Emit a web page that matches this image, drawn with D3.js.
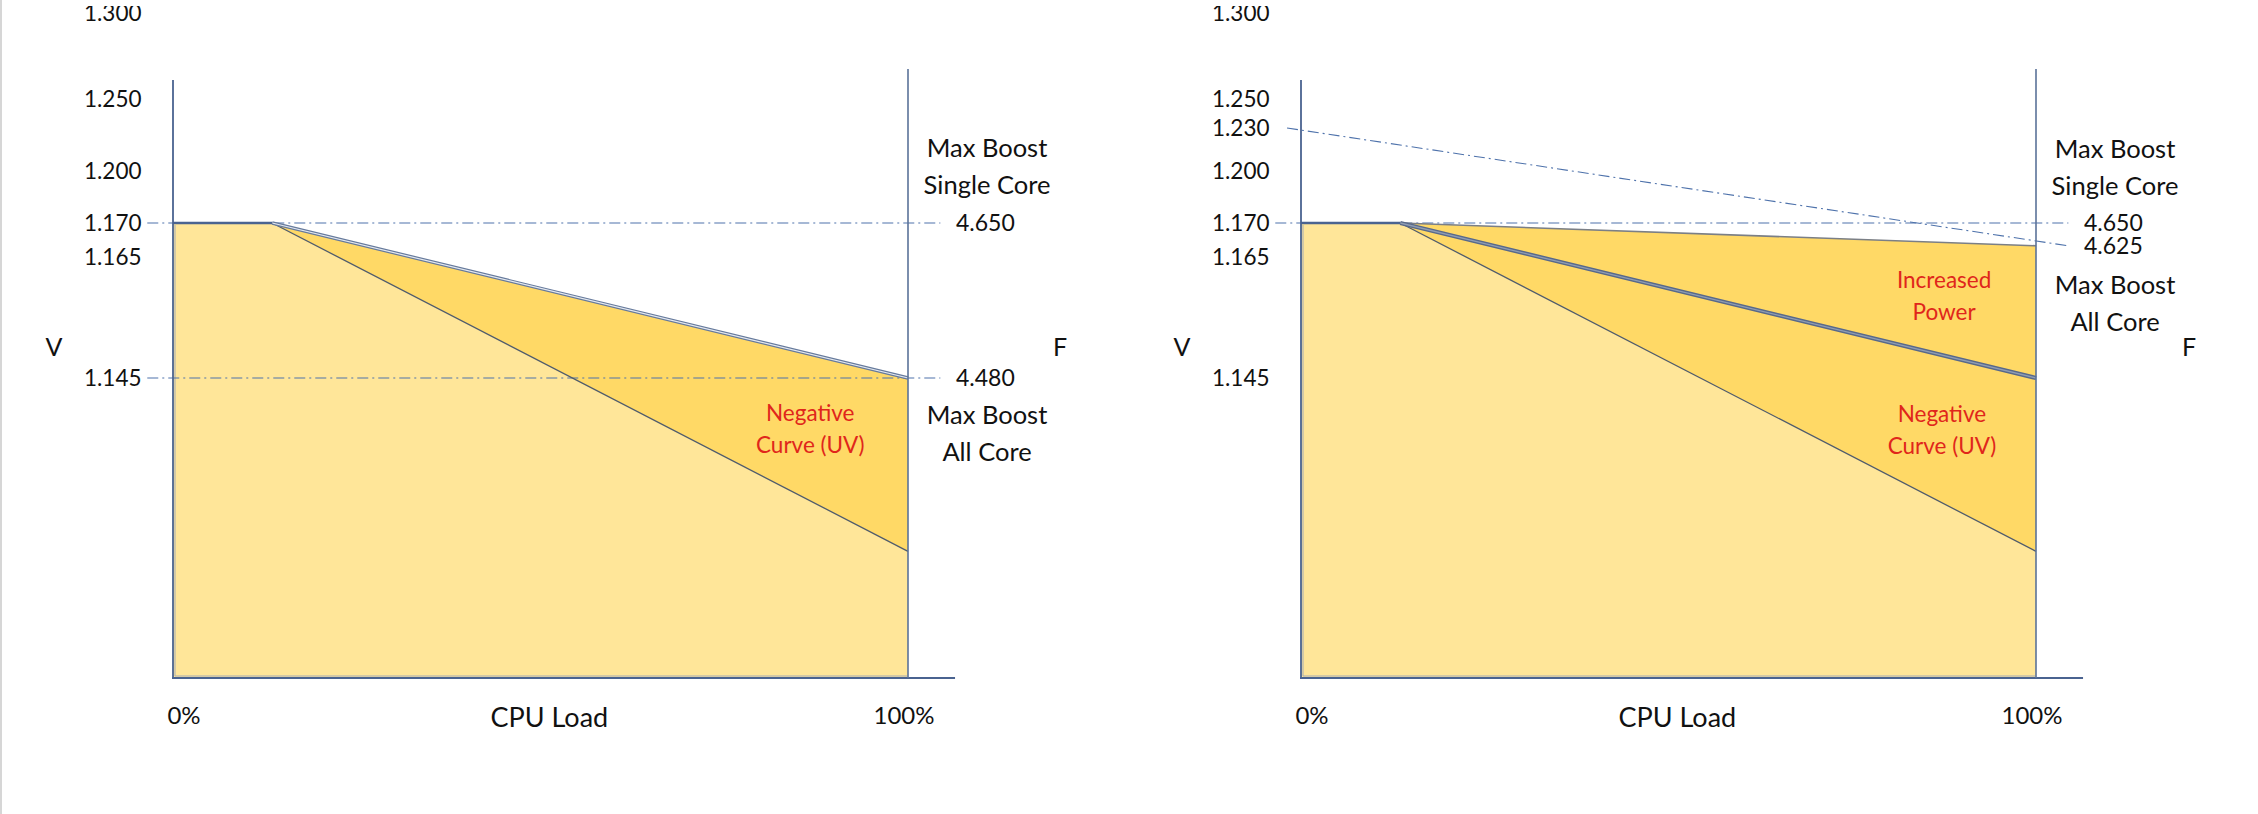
<!DOCTYPE html>
<html><head><meta charset="utf-8">
<script src="https://cdn.jsdelivr.net/npm/d3@7"></script>
<style>
body{margin:0;background:#fff;}
svg{display:block;}
text{font-family:Lato,"Open Sans",sans-serif;fill:#111;}
</style>
</head><body>
<svg id="c" width="2258" height="814"></svg>
<script>
// ---------------- data ----------------
const loadTicks = [0, 100];
const loadTickLabels = ["0%", "100%"];
const xTitle = "CPU Load";
const voltTicksLeft = [1.300, 1.250, 1.200, 1.170, 1.165, 1.145];
const voltTicksRight = [1.300, 1.250, 1.230, 1.200, 1.170, 1.165, 1.145];
const voltBase = 1.100;
const freqTicksLeft = [4.650, 4.480];
const freqTicksRight = [4.650, 4.625];
const kneeLoad = 13.5;        // % load where curve starts dropping
const kneeVolt = 1.170;
const stockEndVolt = 1.145;   // stock curve at 100% load (4.480)
const uvEndVolt = 1.119;      // negative curve (UV) at 100% load
const boostEndFreq = 4.625;   // increased power curve at 100% load
const slopedRefStartVolt = 1.230;
const slopedRefEndFreq = 4.625;
const redLabelsLeft = [["Negative", "Curve (UV)"]];
const redLabelsRight = [["Increased", "Power"], ["Negative", "Curve (UV)"]];

// ---------------- layout ----------------
const svg = d3.select("#c");
const W = 735, yBottom = 678, axisTop = 80, rightTop = 69;
const voltDomain = [1.300, 1.250, 1.230, 1.200, 1.170, 1.165, 1.145, voltBase];
const y = d3.scaleLinear().domain(voltDomain).range([13, 99, 128, 171, 223, 257, 378, yBottom]);
const fy = d3.scaleLinear().domain([4.480, 4.650]).range([378, 223]);

const axisBlue = "#4a6390";
const dashBlue = "#4e72ab";
const lightFill = "#FFE699";
const darkFill = "#FFD966";
const red = "#e0261b";

// left page border
svg.append("line").attr("x1",1).attr("x2",1).attr("y1",0).attr("y2",814)
  .attr("stroke","#c9c9c9").attr("stroke-width",1.5);

svg.append("defs").append("clipPath").attr("id","topclip")
  .append("rect").attr("x",0).attr("y",6).attr("width",2258).attr("height",808);

function panel(x0, opts) {
  const g = svg.append("g");
  const x = d3.scaleLinear().domain([0, 100]).range([x0, x0 + W]);
  const line = d3.line().x(d => d[0]).y(d => d[1]);
  const topEndY = opts.right ? fy(boostEndFreq) : y(stockEndVolt);

  // light area
  g.append("path").attr("d", line([
    [x(0), y(voltBase)], [x(0), y(kneeVolt)], [x(kneeLoad), y(kneeVolt)],
    [x(100), y(uvEndVolt)], [x(100), y(voltBase)]
  ]) + "Z").attr("fill", lightFill);
  // dark area
  g.append("path").attr("d", line([
    [x(kneeLoad), y(kneeVolt)], [x(100), topEndY], [x(100), y(uvEndVolt)]
  ]) + "Z").attr("fill", darkFill);

  // inner gray border of the fill
  g.append("path").attr("d", line([[x(0)+2, y(kneeVolt)+2],[x(0)+2, y(voltBase)-2],[x(100)-1, y(voltBase)-2]]))
    .attr("fill","none").attr("stroke","#a7acb3").attr("stroke-width",1);

  // dashed reference lines
  const dash = "11,4,2,4";
  const dashedH = (yy) => g.append("line").attr("x1", x(-3.5)).attr("x2", x(104.4))
    .attr("y1", yy).attr("y2", yy).attr("stroke", dashBlue).attr("stroke-width",1.1)
    .attr("stroke-dasharray", dash);
  dashedH(y(kneeVolt));
  if (!opts.right) dashedH(y(stockEndVolt));
  if (opts.right) {
    g.append("line").attr("x1", x(-1.9)).attr("y1", y(slopedRefStartVolt))
      .attr("x2", x(104.4)).attr("y2", fy(slopedRefEndFreq))
      .attr("stroke", dashBlue).attr("stroke-width",1.1).attr("stroke-dasharray", dash);
  }

  // lower (UV) line
  g.append("line").attr("x1", x(kneeLoad)).attr("y1", y(kneeVolt))
    .attr("x2", x(100)).attr("y2", y(uvEndVolt))
    .attr("stroke", "#4f5b6b").attr("stroke-width", 1.3);

  if (!opts.right) {
    const s = [[x(kneeLoad), y(kneeVolt)], [x(100), y(stockEndVolt)]];
    g.append("path").attr("d", line(s)).attr("stroke","#667a9c").attr("stroke-width",3.6).attr("fill","none");
    g.append("path").attr("d", line(s)).attr("stroke","#e4e9f1").attr("stroke-width",1.2).attr("fill","none");
  } else {
    g.append("line").attr("x1", x(kneeLoad)).attr("y1", y(kneeVolt))
      .attr("x2", x(100)).attr("y2", fy(boostEndFreq))
      .attr("stroke", "#7b7f86").attr("stroke-width", 1.6);
    const s = [[x(kneeLoad), y(kneeVolt)], [x(100), y(stockEndVolt)]];
    g.append("path").attr("d", line(s)).attr("stroke","#58698a").attr("stroke-width",4.2).attr("fill","none");
    g.append("path").attr("d", line(s)).attr("stroke","#8f9db3").attr("stroke-width",1.3).attr("fill","none");
  }

  // flat top segment
  g.append("line").attr("x1", x(0)).attr("x2", x(kneeLoad)).attr("y1", y(kneeVolt)).attr("y2", y(kneeVolt))
    .attr("stroke", axisBlue).attr("stroke-width", 2.6);

  // axes
  g.append("line").attr("x1", x(0)).attr("x2", x(0)).attr("y1", axisTop).attr("y2", yBottom)
    .attr("stroke", axisBlue).attr("stroke-width", 1.8);
  g.append("line").attr("x1", x(0)-1).attr("x2", x(106.4)).attr("y1", yBottom).attr("y2", yBottom)
    .attr("stroke", axisBlue).attr("stroke-width", 2);
  g.append("line").attr("x1", x(100)).attr("x2", x(100)).attr("y1", rightTop).attr("y2", yBottom)
    .attr("stroke", "#5b7299").attr("stroke-width", 1.6);

  // voltage tick labels
  const ticks = opts.right ? voltTicksRight : voltTicksLeft;
  g.append("g").attr("clip-path","url(#topclip)").selectAll("text").data(ticks).join("text")
    .attr("x", x0 - 89).attr("y", d => y(d)).attr("dy","0.36em")
    .attr("font-size", 22.5).text(d => d3.format(".3f")(d));

  // axis letters
  g.append("text").attr("x", x0 - 119).attr("y", 347).attr("dy","0.36em")
    .attr("text-anchor","middle").attr("font-size",25).text("V");
  g.append("text").attr("x", x(100) + (opts.right ? 153 : 152)).attr("y", 347).attr("dy","0.36em")
    .attr("text-anchor","middle").attr("font-size",25).text("F");

  // frequency labels
  const fticks = opts.right ? freqTicksRight : freqTicksLeft;
  g.selectAll(".ft").data(fticks).join("text").attr("class","ft")
    .attr("x", x(100) + 48).attr("y", d => fy(d)).attr("dy","0.36em")
    .attr("font-size", 23).text(d => d3.format(".3f")(d));

  // Max boost labels
  const cx = x(100) + 79;
  const block = (lines, y1) => lines.forEach((t, i) => g.append("text")
    .attr("x", cx).attr("y", y1 + i * 37).attr("dy","0.36em")
    .attr("text-anchor","middle").attr("font-size",25.5).text(t));
  block(["Max Boost", "Single Core"], opts.right ? 149 : 148);
  block(["Max Boost", "All Core"], opts.right ? 285 : 415);

  // red labels
  const reds = opts.right ? redLabelsRight : redLabelsLeft;
  const redPos = opts.right ? [[87.5, 280], [87.2, 414]] : [[86.7, 413]];
  reds.forEach((lines, k) => lines.forEach((t, i) => g.append("text")
    .attr("x", x(redPos[k][0])).attr("y", redPos[k][1] + i * 32).attr("dy","0.36em")
    .attr("text-anchor","middle").attr("font-size",22.5).style("fill", red).text(t)));

  // x labels
  loadTicks.forEach((v, i) => g.append("text")
    .attr("x", x(v) + (i === 0 ? 11 : -4)).attr("y", 715).attr("dy","0.36em")
    .attr("text-anchor","middle").attr("font-size",24).text(loadTickLabels[i]));
  g.append("text").attr("x", x(51.2)).attr("y", 717).attr("dy","0.36em")
    .attr("text-anchor","middle").attr("font-size",27).text(xTitle);
}

panel(173, {right:false});
panel(1301, {right:true});
</script>
</body></html>
